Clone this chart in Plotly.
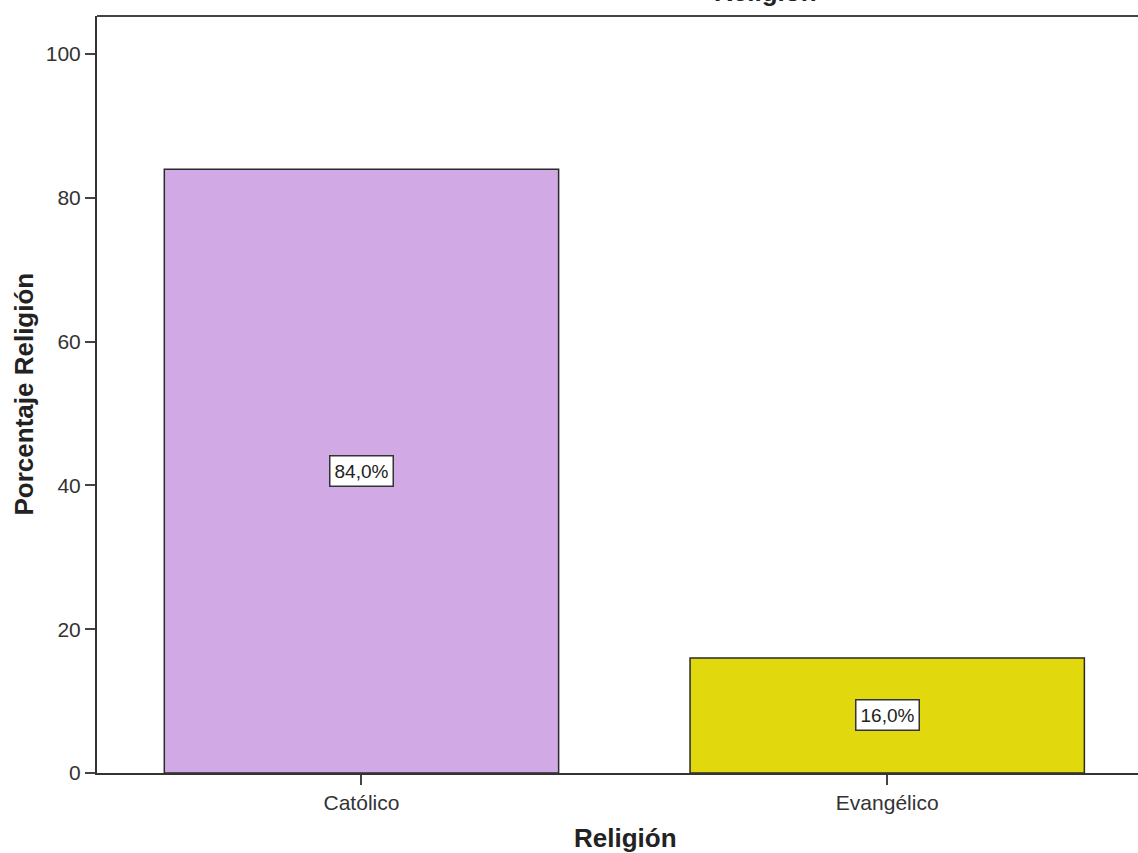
import plotly.graph_objects as go

categories = ["Católico", "Evangélico"]
values = [84.0, 16.0]
labels = ["84,0%", "16,0%"]
colors = ["#D1A9E5", "#E2D80E"]
y_ticks = [0, 20, 40, 60, 80, 100]

FONT = "Arial, Liberation Sans, sans-serif"

fig = go.Figure()
fig.add_trace(go.Bar(
    x=list(range(len(categories))), y=values, width=0.75,
    marker=dict(color=colors, line=dict(color="#2a2a2a", width=1.5)),
    hoverinfo="skip",
))

for i, (v, lab) in enumerate(zip(values, labels)):
    fig.add_annotation(x=i, y=v / 2, text=lab, showarrow=False,
                       font=dict(family=FONT, size=19, color="#222"),
                       bgcolor="white", bordercolor="#333", borderwidth=1.5, borderpad=4)

fig.add_annotation(xref="paper", yref="paper", x=0.642, y=1, xanchor="center", yanchor="middle",
                   yshift=24, text="<b>Religión</b>", showarrow=False,
                   font=dict(family=FONT, size=26, color="#222"))
fig.add_annotation(xref="paper", yref="paper", x=0, y=0.5, xanchor="center", yanchor="middle",
                   xshift=-74, textangle=-90,
                   text="<b>Porcentaje Religión</b>", showarrow=False,
                   font=dict(family=FONT, size=26, color="#222"))
fig.add_annotation(xref="paper", yref="paper", x=0.508, y=0, xanchor="center", yanchor="middle",
                   yshift=-65, text="<b>Religión</b>", showarrow=False,
                   font=dict(family=FONT, size=26, color="#222"))

fig.add_shape(type="line", xref="paper", yref="paper", x0=0, x1=1, y0=1, y1=1,
              line=dict(color="#444", width=2))

fig.update_layout(
    width=1138, height=853,
    margin=dict(l=97, r=0, t=16, b=80),
    plot_bgcolor="white", paper_bgcolor="white",
    showlegend=False,
    xaxis=dict(range=[-0.503, 1.477], tickvals=list(range(len(categories))), ticktext=categories,
               showline=True, linecolor="#333", linewidth=2, ticks="outside", ticklen=10,
               tickcolor="#444", tickwidth=1.5, showgrid=False, zeroline=False,
               tickfont=dict(family=FONT, size=21, color="#333")),
    yaxis=dict(range=[0, 105.3], tickvals=y_ticks, showline=True, linecolor="#333",
               linewidth=2, ticks="outside", ticklen=10, tickcolor="#444", tickwidth=1.5,
               showgrid=False, zeroline=False,
               tickfont=dict(family=FONT, size=21, color="#333")),
)
fig.write_html("out.html", config={"displayModeBar": False},
               post_script="document.body.style.margin='0';")
